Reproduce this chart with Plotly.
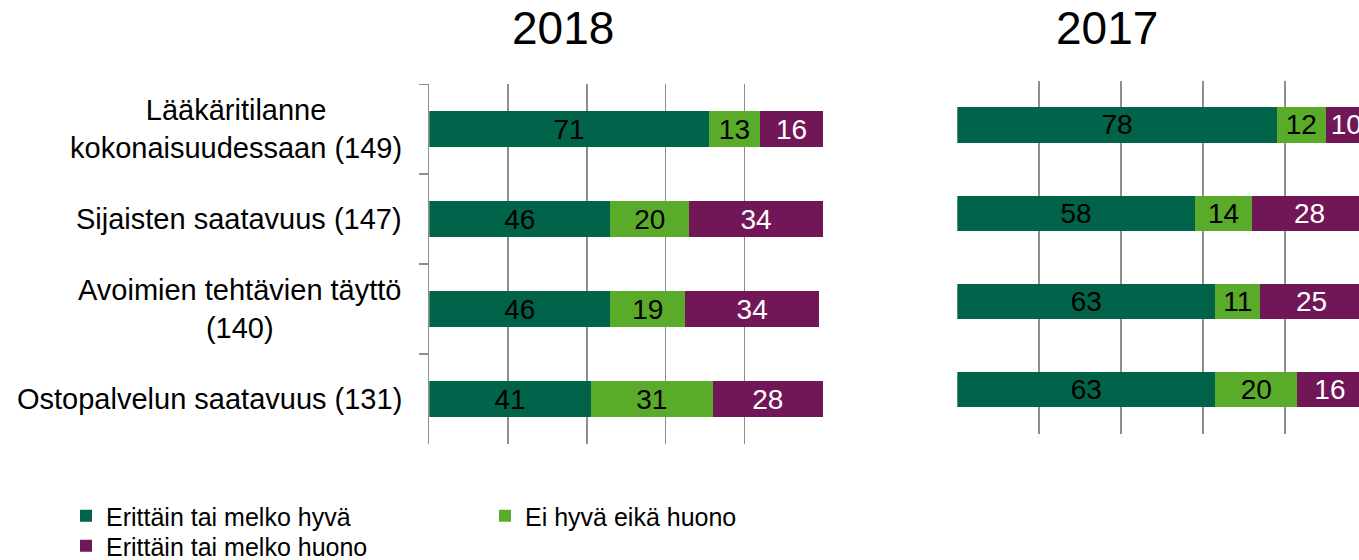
import plotly.graph_objects as go

# ---------------- data ----------------
categories = [
    "Lääkäritilanne kokonaisuudessaan (149)",
    "Sijaisten saatavuus (147)",
    "Avoimien tehtävien täyttö (140)",
    "Ostopalvelun saatavuus (131)",
]
category_labels = [
    "Lääkäritilanne<br>kokonaisuudessaan (149)",
    "Sijaisten saatavuus (147)",
    "Avoimien tehtävien täyttö<br>(140)",
    "Ostopalvelun saatavuus (131)",
]
series_names = ["Erittäin tai melko hyvä", "Ei hyvä eikä huono", "Erittäin tai melko huono"]

good_2018 = [71, 46, 46, 41]
neutral_2018 = [13, 20, 19, 31]
bad_2018 = [16, 34, 34, 28]

good_2017 = [78, 58, 63, 63]
neutral_2017 = [12, 14, 11, 20]
bad_2017 = [10, 28, 25, 16]

x_ticks = [0, 20, 40, 60, 80, 100]
years = ["2018", "2017"]

# ---------------- style ----------------
W, H = 1359, 560
FONT = "Arial, 'Liberation Sans', Helvetica, sans-serif"
colors = ["#00634A", "#5AAB29", "#711656"]
text_colors = ["black", "black", "white"]
GRID = "#8e8e8e"

fig = go.Figure()

data_2018 = [good_2018, neutral_2018, bad_2018]
data_2017 = [good_2017, neutral_2017, bad_2017]
legends = ["legend", "legend", "legend2"]

for i, name in enumerate(series_names):
    fig.add_trace(go.Bar(
        y=categories, x=data_2018[i], orientation="h", name=name,
        marker=dict(color=colors[i], line=dict(width=0)),
        text=data_2018[i], textposition="inside", insidetextanchor="middle",
        textangle=0,
        textfont=dict(color=text_colors[i], size=28, family=FONT),
        constraintext="none", cliponaxis=True,
        xaxis="x", yaxis="y", legend=legends[i], showlegend=True,
        hoverinfo="skip",
    ))
for i, name in enumerate(series_names):
    fig.add_trace(go.Bar(
        y=categories, x=data_2017[i], orientation="h", name=name,
        marker=dict(color=colors[i], line=dict(width=0)),
        text=data_2017[i], textposition="inside", insidetextanchor="middle",
        textangle=0,
        textfont=dict(color=text_colors[i], size=28, family=FONT),
        constraintext="none", cliponaxis=True,
        xaxis="x2", yaxis="y2", showlegend=False,
        hoverinfo="skip",
    ))

def px_x(p):
    return p / W

def px_y(p):
    return 1 - p / H

common_x = dict(tickvals=x_ticks, showticklabels=False, showgrid=True,
                gridcolor=GRID, gridwidth=1.5, zeroline=False, showline=False,
                ticks="", fixedrange=True)

fig.update_layout(
    width=W, height=H,
    margin=dict(l=0, r=0, t=0, b=0, autoexpand=False),
    paper_bgcolor="white", plot_bgcolor="white",
    barmode="stack", bargap=0.6,
    font=dict(family=FONT, color="black"),
    xaxis=dict(domain=[px_x(429.3), px_x(823)], range=[0, 100], anchor="y", **common_x),
    yaxis=dict(domain=[px_y(444), px_y(84.3)], anchor="x", type="category",
               categoryorder="array", categoryarray=categories, autorange="reversed",
               showticklabels=False, showgrid=False, showline=True,
               linecolor=GRID, linewidth=1.5, ticks="outside", ticklen=9,
               tickcolor=GRID, tickwidth=1.5, tickson="boundaries", fixedrange=True),
    xaxis2=dict(domain=[px_x(957.3), 1], range=[0, 98.1], anchor="y2", **common_x),
    yaxis2=dict(domain=[px_y(434), px_y(80.7)], anchor="x2", type="category",
                categoryorder="array", categoryarray=categories, autorange="reversed",
                showticklabels=False, showgrid=False, showline=False, ticks="",
                fixedrange=True),
    legend=dict(orientation="h", x=px_x(66), xanchor="left", y=px_y(516), yanchor="middle",
                entrywidth=374, entrywidthmode="pixels",
                font=dict(size=25, family=FONT, color="black"),
                bgcolor="rgba(0,0,0,0)", traceorder="normal"),
    legend2=dict(orientation="h", x=px_x(66), xanchor="left", y=px_y(546), yanchor="middle",
                 font=dict(size=25, family=FONT, color="black"),
                 bgcolor="rgba(0,0,0,0)"),
    showlegend=True,
)

# year titles
fig.add_annotation(text=years[0], xref="paper", yref="paper", x=px_x(563), y=px_y(28),
                   xanchor="center", yanchor="middle", showarrow=False,
                   font=dict(size=46, family=FONT, color="black"))
fig.add_annotation(text=years[1], xref="paper", yref="paper", x=px_x(1107), y=px_y(28),
                   xanchor="center", yanchor="middle", showarrow=False,
                   font=dict(size=46, family=FONT, color="black"))

# category labels (centre-aligned blocks, right edge at the axis)
for cat, lab in zip(categories, category_labels):
    fig.add_annotation(text=lab, xref="paper", yref="y", x=px_x(404), y=cat,
                       xanchor="right", yanchor="middle", align="center", showarrow=False,
                       font=dict(size=29, family=FONT, color="black"))

fig.write_html(
    "out.html",
    config={"displayModeBar": False, "staticPlot": True},
    post_script="document.body.style.margin='0';document.body.style.overflow='hidden';",
)
